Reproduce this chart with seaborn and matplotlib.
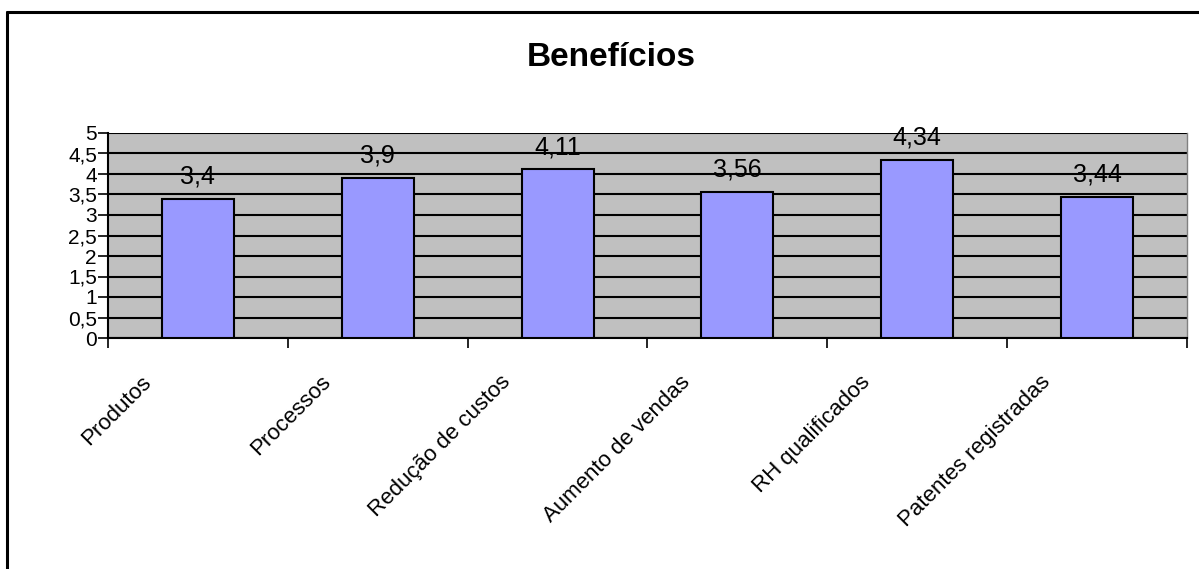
import matplotlib
matplotlib.use("Agg")
import matplotlib.pyplot as plt
import matplotlib.transforms as mtransforms
from matplotlib.lines import Line2D
from matplotlib.ticker import FixedLocator
import seaborn as sns
import pandas as pd

categories = ["Produtos", "Processos", "Redução de custos", "Aumento de vendas",
              "RH qualificados", "Patentes registradas"]
values = [3.4, 3.9, 4.11, 3.56, 4.34, 3.44]
value_labels = ["3,4", "3,9", "4,11", "3,56", "4,34", "3,44"]
y_ticks = [0, 0.5, 1, 1.5, 2, 2.5, 3, 3.5, 4, 4.5, 5]
y_tick_labels = ["0", "0,5", "1", "1,5", "2", "2,5", "3", "3,5", "4", "4,5", "5"]
title = "Benefícios"

sns.set_style("white")
plt.rcParams['font.family'] = ['Liberation Sans', 'DejaVu Sans']
plt.rcParams['text.color'] = 'black'
plt.rcParams['xtick.color'] = 'black'
plt.rcParams['ytick.color'] = 'black'
plt.rcParams['xtick.labelcolor'] = 'black'
plt.rcParams['ytick.labelcolor'] = 'black'

df = pd.DataFrame({"cat": categories, "val": values})

W, H = 1199, 569
fig = plt.figure(figsize=(W / 100, H / 100), dpi=100)
ax = fig.add_axes([108 / W, 1 - 338 / H, (1187 - 108) / W, (338 - 133) / H])
ax.set_facecolor("#C0C0C0")

sns.barplot(data=df, x="cat", y="val", color="#9999FF", width=0.4,
            edgecolor="black", linewidth=1.5, saturation=1, ax=ax, zorder=3)

ax.set_ylim(0, 5)
ax.set_xlim(-0.5, len(categories) - 0.5)
ax.set_yticks(y_ticks)
ax.set_yticklabels(y_tick_labels, fontsize=15)
ax.yaxis.grid(True, color="black", linewidth=1.5, zorder=0)
ax.set_axisbelow(True)
ax.set_xlabel("")
ax.set_ylabel("")

# category boundary tick marks
ax.xaxis.set_minor_locator(FixedLocator([i - 0.5 for i in range(len(categories) + 1)]))
ax.tick_params(axis="x", which="minor", length=7, width=1.2, color="black", direction="out", bottom=True)
ax.tick_params(axis="x", which="major", length=0, pad=2)
ax.tick_params(axis="y", length=7, width=1.2, color="black", direction="out", left=True, pad=1)

ax.set_xticks(range(len(categories)))
ax.set_xticklabels(categories, rotation=45, ha="right", rotation_mode="anchor",
                   va="center", fontsize=16)
offset = mtransforms.ScaledTranslation(-0.50, -0.38, fig.dpi_scale_trans)
for lbl in ax.get_xticklabels():
    lbl.set_transform(lbl.get_transform() + offset)

for sp in ax.spines.values():
    sp.set_visible(False)
ax.spines["left"].set_visible(True)
ax.spines["bottom"].set_visible(True)
ax.spines["left"].set_color("black")
ax.spines["bottom"].set_color("black")
ax.spines["left"].set_linewidth(1.5)
ax.spines["bottom"].set_linewidth(1.5)
ax.spines["right"].set_visible(True)
ax.spines["right"].set_color("#808080")
ax.spines["right"].set_linewidth(1)

for i, (v, t) in enumerate(zip(values, value_labels)):
    ax.annotate(t, (i, v), xytext=(0, 11), textcoords="offset points",
                ha="center", va="baseline", fontsize=18, color="black", zorder=5)

fig.text(611 / W, 1 - 57 / H, title, ha="center", va="center",
         fontsize=24, fontweight="bold", color="black")

# outer border (left and top)
fig.add_artist(Line2D([7 / W, 7 / W], [0, 1 - 12 / H], color="black", linewidth=2.2,
                      transform=fig.transFigure))
fig.add_artist(Line2D([7 / W, 1], [1 - 12 / H, 1 - 12 / H], color="black", linewidth=2.2,
                      transform=fig.transFigure))

fig.savefig("out.png", dpi=100)
